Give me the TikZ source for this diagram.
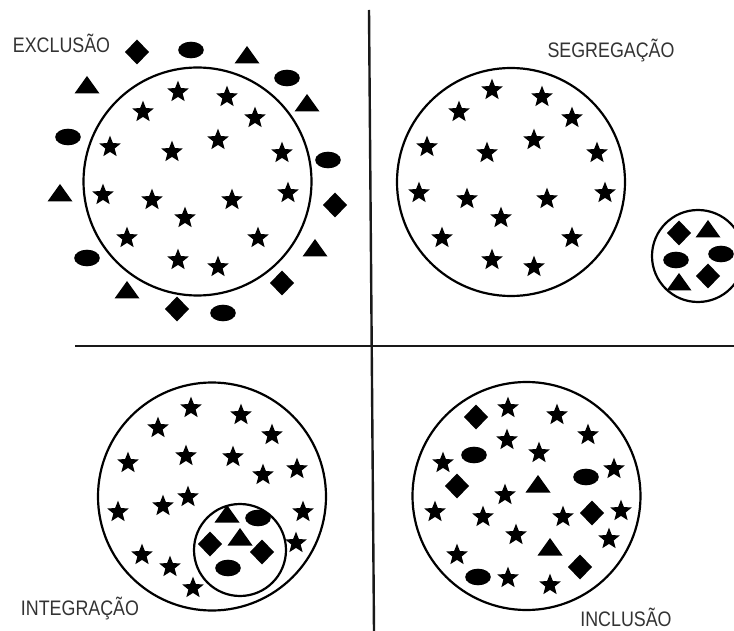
\documentclass[tikz,border=0pt]{standalone}
\usepackage{fontspec}
\setmainfont{Liberation Sans}
\newfontfamily\lblfont[FakeStretch=0.85]{Liberation Sans}
\tikzset{
  starp/.pic={\fill[black] (270:11.3) -- (306:4.9) -- (342:11.3) -- (18:4.9) -- (54:11.3) -- (90:4.9) -- (126:11.3) -- (162:4.9) -- (198:11.3) -- (234:4.9) -- cycle;},
  trip/.pic={\fill[black] (-12.5,8.5) -- (12.5,8.5) -- (0,-9) -- cycle;},
  diap/.pic={\fill[black] (-12,0) -- (0,-12.5) -- (12,0) -- (0,12.5) -- cycle;},
  ellp/.pic={\fill[black] (0,0) ellipse [x radius=12.8pt, y radius=8.3pt];},
  divider/.style={line width=2.4pt, black!90},
  ring/.style={circle, draw=black, line width=2.2pt, inner sep=0pt},
  bigring/.style={ring, minimum size=228pt},
  smallring/.style={ring, minimum size=92pt},
  lbl/.style={font=\lblfont\fontsize{21}{24}\selectfont, text=black!80, inner sep=0pt, text depth=0pt, anchor=base},
}
\begin{document}
\begin{tikzpicture}[x=1pt,y=-1pt]
\fill[white] (0,0) rectangle (734,631);
\useasboundingbox (0,0) rectangle (734,631);

% dividers
\coordinate (vtop) at (369,10);
\coordinate (vbot) at (374,631);
\coordinate (hleft) at (75,346);
\coordinate (hright) at (734,346);
\draw[divider] (vtop) -- (vbot);
\draw[divider] (hleft) -- (hright);

% labels (anchored at baseline)
\node[lbl] (exc) at (61.5,52.5) {EXCLUSÃO};
\node[lbl] (seg) at (611,57.5) {SEGREGAÇÃO};
\node[lbl] (int) at (80,615.5) {INTEGRAÇÃO};
\node[lbl] (inc) at (626,626) {INCLUSÃO};

% rings
\node[bigring] (c1) at (197.5,181.5) {};
\node[bigring] (c2) at (511,182) {};
\node[smallring] (c2s) at (698,256) {};
\node[bigring] (c3) at (212,496.5) {};
\node[smallring] (c3s) at (240,550) {};
\node[bigring] (c4) at (526.5,496) {};

% Q1 stars
\foreach \p in {(178,92),(227,97),(143,112),(255,118),(218,140),(110,147),(172,152),(282,153),(103,195),(152,200),(232,200),(288,193),(185,218),(127,238),(258,238),(178,260),(218,267)}
  \pic at \p {starp};
% Q1 outside shapes
\foreach \p in {(137,52),(335,205),(282,283),(177,309)} \pic at \p {diap};
\foreach \p in {(191,50),(287,78),(68,137),(328,160),(87,258),(223,313)} \pic at \p {ellp};
\foreach \p in {(247,55),(307,103),(87,85),(60,193),(315,248),(127,290)} \pic at \p {trip};

% Q2 stars
\foreach \p in {(492,90),(542,97),(459,112),(572,118),(534,140),(427,147),(487,153),(597,153),(419,193),(467,199),(547,199),(605,193),(501,218),(442,238),(572,238),(492,260),(534,267)}
  \pic at \p {starp};
% Q2 small group
\foreach \p in {(679,233),(708,276)} \pic at \p {diap};
\foreach \p in {(676,260),(721,254)} \pic at \p {ellp};
\foreach \p in {(708,229),(679,282)} \pic at \p {trip};

% Q3 stars
\foreach \p in {(191,408),(241,415),(158,428),(272,435),(186,456),(233,457),(128,463),(263,475),(297,469),(188,497),(163,506),(118,512),(303,512),(296,543),(142,555),(170,567),(193,588)}
  \pic at \p {starp};
% Q3 inner group
\foreach \p in {(210,544),(262,552)} \pic at \p {diap};
\foreach \p in {(258,518),(228,568)} \pic at \p {ellp};
\foreach \p in {(227,514),(240,537)} \pic at \p {trip};

% Q4 mixed
\foreach \p in {(508,408),(557,415),(588,435),(507,440),(539,453),(443,463),(614,469),(505,495),(435,512),(483,517),(563,517),(621,511),(516,535),(609,539),(457,555),(508,578),(550,585)}
  \pic at \p {starp};
\foreach \p in {(476,417),(457,486),(592,513),(580,567)} \pic at \p {diap};
\foreach \p in {(474,455),(586,477),(478,577)} \pic at \p {ellp};
\foreach \p in {(538,484),(550,547)} \pic at \p {trip};
\end{tikzpicture}
\end{document}
